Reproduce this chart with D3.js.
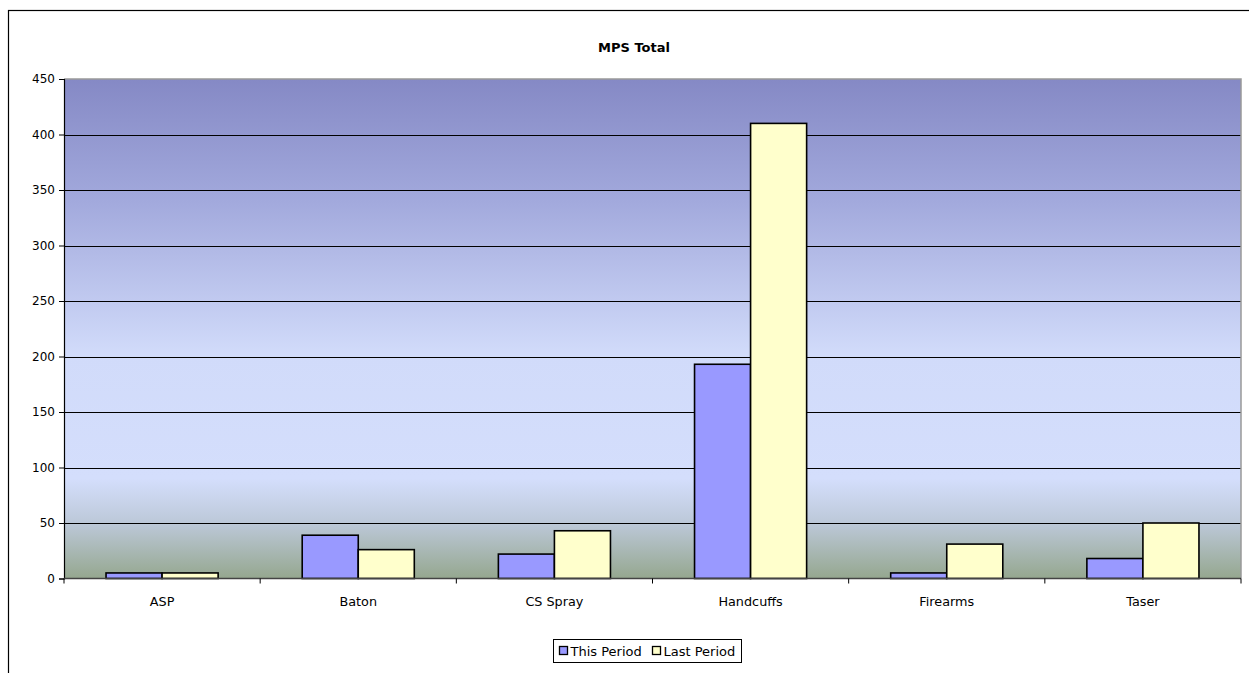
<!DOCTYPE html>
<html><head><meta charset="utf-8">
<script src="https://cdn.jsdelivr.net/npm/d3@7/dist/d3.min.js"></script>
<style>body{margin:0;background:#fff;}svg{display:block;}</style>
</head><body>
<svg id="c" width="1249" height="673"></svg>
<script>
const categories = ["ASP","Baton","CS Spray","Handcuffs","Firearms","Taser"];
const seriesNames = ["This Period","Last Period"];
const thisPeriod = [5, 39, 22, 193, 5, 18];
const lastPeriod = [5, 26, 43, 410, 31, 50];
const yTicks = [0,50,100,150,200,250,300,350,400,450];
const colors = ["#9999FF","#FFFFCC"];
const title = "MPS Total";

const svg = d3.select("#c");
const font = "'DejaVu Sans', Verdana, sans-serif";
const L = 64, R = 1241, T = 79, B = 578.5;

// outer chart border
svg.append("rect").attr("x",8.5).attr("y",10.5).attr("width",1300).attr("height",800)
  .attr("fill","#fff").attr("stroke","#000").attr("stroke-width",1.2);

const defs = svg.append("defs");
const grad = defs.append("linearGradient").attr("id","bg").attr("x1",0).attr("y1",0).attr("x2",0).attr("y2",1);
[[0,"#8589C5"],[0.25,"#A3AADD"],[0.55,"#D1DBFA"],[0.8,"#D4DEFC"],[0.89,"#BCC8D8"],[1,"#95A78F"]]
  .forEach(([o,c])=>grad.append("stop").attr("offset",o).attr("stop-color",c));

const x0 = d3.scaleBand().domain(categories).range([L,R]).paddingInner(0).paddingOuter(0);
const y = d3.scaleLinear().domain([0,450]).range([B,T]);
const bw = x0.bandwidth()*0.2857;

svg.append("rect").attr("x",L).attr("y",T).attr("width",R-L).attr("height",B-T).attr("fill","url(#bg)");

// gridlines
svg.append("g").selectAll("line").data(yTicks.filter(d=>d>0&&d<450)).join("line")
  .attr("x1",L).attr("x2",R).attr("y1",d=>Math.round(y(d))+0.5).attr("y2",d=>Math.round(y(d))+0.5)
  .attr("stroke","#000").attr("stroke-width",1);

// plot border top/right gray
svg.append("path").attr("d",`M${L},${T}H${R}V${B}`).attr("fill","none").attr("stroke","#999").attr("stroke-width",1.5);

// bars
const data = categories.map((c,i)=>({c, v:[thisPeriod[i], lastPeriod[i]]}));
const g = svg.append("g");
data.forEach(d=>{
  const cx = x0(d.c) + x0.bandwidth()/2;
  d.v.forEach((v,j)=>{
    g.append("rect").attr("x",cx - bw + j*bw).attr("y",y(v)).attr("width",bw).attr("height",y(0)-y(v))
      .attr("fill",colors[j]).attr("stroke","#000").attr("stroke-width",1.6);
  });
});

// y axis
const yAxis = d3.axisLeft(y).tickValues(yTicks).tickSize(5).tickPadding(4).tickFormat(d3.format("d"));
const ya = svg.append("g").attr("transform",`translate(${L},0)`).call(yAxis);
ya.select(".domain").attr("stroke","#000").attr("stroke-width",1.2);
ya.selectAll("text").attr("font-family",font).attr("font-size","12px").attr("fill","#000");

// x axis
const xa = svg.append("g").attr("transform",`translate(0,${B})`);
xa.append("line").attr("x1",L).attr("x2",R).attr("stroke","#444").attr("stroke-width",1.5);
const xt = [...categories.map(c=>x0(c)), R];
xa.selectAll("line.tk").data(xt).join("line").attr("class","tk")
  .attr("x1",d=>d).attr("x2",d=>d).attr("y1",0).attr("y2",5).attr("stroke","#000");
xa.selectAll("text").data(categories).join("text")
  .attr("x",d=>x0(d)+x0.bandwidth()/2).attr("y",27.5).attr("text-anchor","middle")
  .attr("font-family",font).attr("font-size","12.8px").attr("fill","#000").text(d=>d);

// title
svg.append("text").attr("x",634).attr("y",52).attr("text-anchor","middle")
  .attr("font-family",font).attr("font-weight","bold").attr("font-size","13px").text(title);

// legend
const lg = svg.append("g");
lg.append("rect").attr("x",553.5).attr("y",639.5).attr("width",188).attr("height",23)
  .attr("fill","#fff").attr("stroke","#000").attr("stroke-width",1);
const lx = [559, 652];
seriesNames.forEach((n,i)=>{
  lg.append("rect").attr("x",lx[i]+0.5).attr("y",646.5).attr("width",8).attr("height",8)
    .attr("fill",colors[i]).attr("stroke","#000").attr("stroke-width",1.3);
  lg.append("text").attr("x",lx[i]+11.5).attr("y",655.5).attr("font-family",font)
    .attr("font-size","13px").text(n);
});
</script>
</body></html>
